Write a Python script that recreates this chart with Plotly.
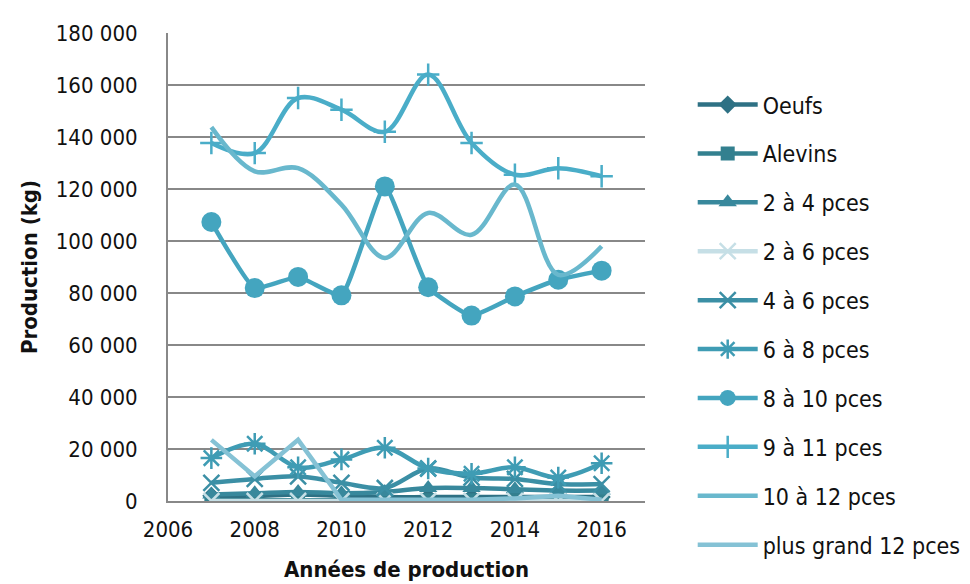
import plotly.graph_objects as go

years = [2007, 2008, 2009, 2010, 2011, 2012, 2013, 2014, 2015, 2016]

series_names = ["Oeufs", "Alevins", "2 à 4 pces", "2 à 6 pces", "4 à 6 pces",
                "6 à 8 pces", "8 à 10 pces", "9 à 11 pces", "10 à 12 pces",
                "plus grand 12 pces"]

oeufs = [2000, 2000, 2500, 2000, 1500, 1500, 1500, 1500, 1500, 1500]
alevins = [300, 300, 300, 300, 300, 300, 300, 300, 300, 300]
p2_4 = [2500, 3000, 3500, 3000, 3500, 5000, 5000, 4500, 4000, 4000]
p2_6 = [0, 0, 0, 0, 0, 0, 0, 0, 0, 0]
p4_6 = [7000, 8500, 9500, 7000, 5000, 12500, 9000, 8500, 6500, 6500]
p6_8 = [16500, 22000, 13000, 16000, 20500, 12500, 10500, 13000, 9000, 14500]
p8_10 = [107300, 81900, 86200, 79100, 121000, 82200, 71300, 78700, 85100, 88600]
p9_11 = [137700, 133800, 155000, 150500, 142000, 164000, 137700, 125500, 128000, 124900]
p10_12 = [143800, 126800, 128000, 114000, 93500, 110800, 102400, 121700, 87000, 98000]
p12plus = [23500, 9500, 23500, 500, 500, 500, 500, 1000, 2000, 500]

values = [oeufs, alevins, p2_4, p2_6, p4_6, p6_8, p8_10, p9_11, p10_12, p12plus]

colors = ["#2E7184", "#33808F", "#38889C", "#C6DFE6", "#3B8FA5",
          "#3F9CB4", "#44A5BF", "#4AADC8", "#69B8CD", "#85C2D5"]
symbols = ["diamond", "square", "triangle-up", "x-thin-open", "x-thin-open",
           "asterisk-open", "circle", "cross-thin-open", None, None]
msizes = [14, 14, 16, 16, 16, 18, 20, 16, 0, 0]
shapes = ["spline", "spline", "spline", "spline", "spline",
          "spline", "spline", "spline", "spline", "linear"]
smooth = [1.0, 1.0, 1.0, 1.0, 1.0, 1.0, 0.4, 1.0, 1.0, 0]

FONT = "DejaVu Sans Condensed, Liberation Sans Narrow, Arial Narrow, sans-serif"

fig = go.Figure()
for i, name in enumerate(series_names):
    line = dict(color=colors[i], width=4.5, shape=shapes[i])
    if shapes[i] == "spline":
        line["smoothing"] = smooth[i]
    if symbols[i] is None:
        mode = "lines"
        marker = None
    else:
        mode = "lines+markers"
        open_sym = symbols[i].endswith("open")
        marker = dict(symbol=symbols[i], size=msizes[i], color=colors[i],
                      line=dict(color=colors[i], width=2.5 if open_sym else 0))
    fig.add_trace(go.Scatter(x=years, y=values[i], name=name, mode=mode,
                             line=line, marker=marker, legendgroup=str(i)))

fig.update_layout(
    width=970, height=584,
    margin=dict(l=160, r=330, t=25, b=91),
    paper_bgcolor="white", plot_bgcolor="white",
    separators=", ",
    font=dict(family=FONT, size=22, color="#111111"),
    showlegend=True,
    legend=dict(x=1.1, xanchor="left", y=0.893, yanchor="top",
                font=dict(family=FONT, size=23, color="#111111"),
                tracegroupgap=16, itemwidth=60, maxheight=580,
                bgcolor="rgba(0,0,0,0)"),
    xaxis=dict(range=[2006, 2017], tick0=2006, dtick=2, showgrid=False,
               showline=True, linecolor="#888888", linewidth=2, ticks="",
               zeroline=False, tickfont=dict(size=22), ticklabelstandoff=8,
               title=dict(text="<b>Années de production</b>", font=dict(size=22), standoff=20)),
    yaxis=dict(range=[0, 180000], dtick=20000, tickformat=",d", showgrid=True,
               gridcolor="#888888", gridwidth=2, showline=True, linecolor="#888888",
               linewidth=2, ticks="", zeroline=False, tickfont=dict(size=22),
               ticklabelstandoff=24,
               title=dict(text="<b>Production (kg)</b>", font=dict(size=22), standoff=12)),
)

fig.write_html("out.html")
